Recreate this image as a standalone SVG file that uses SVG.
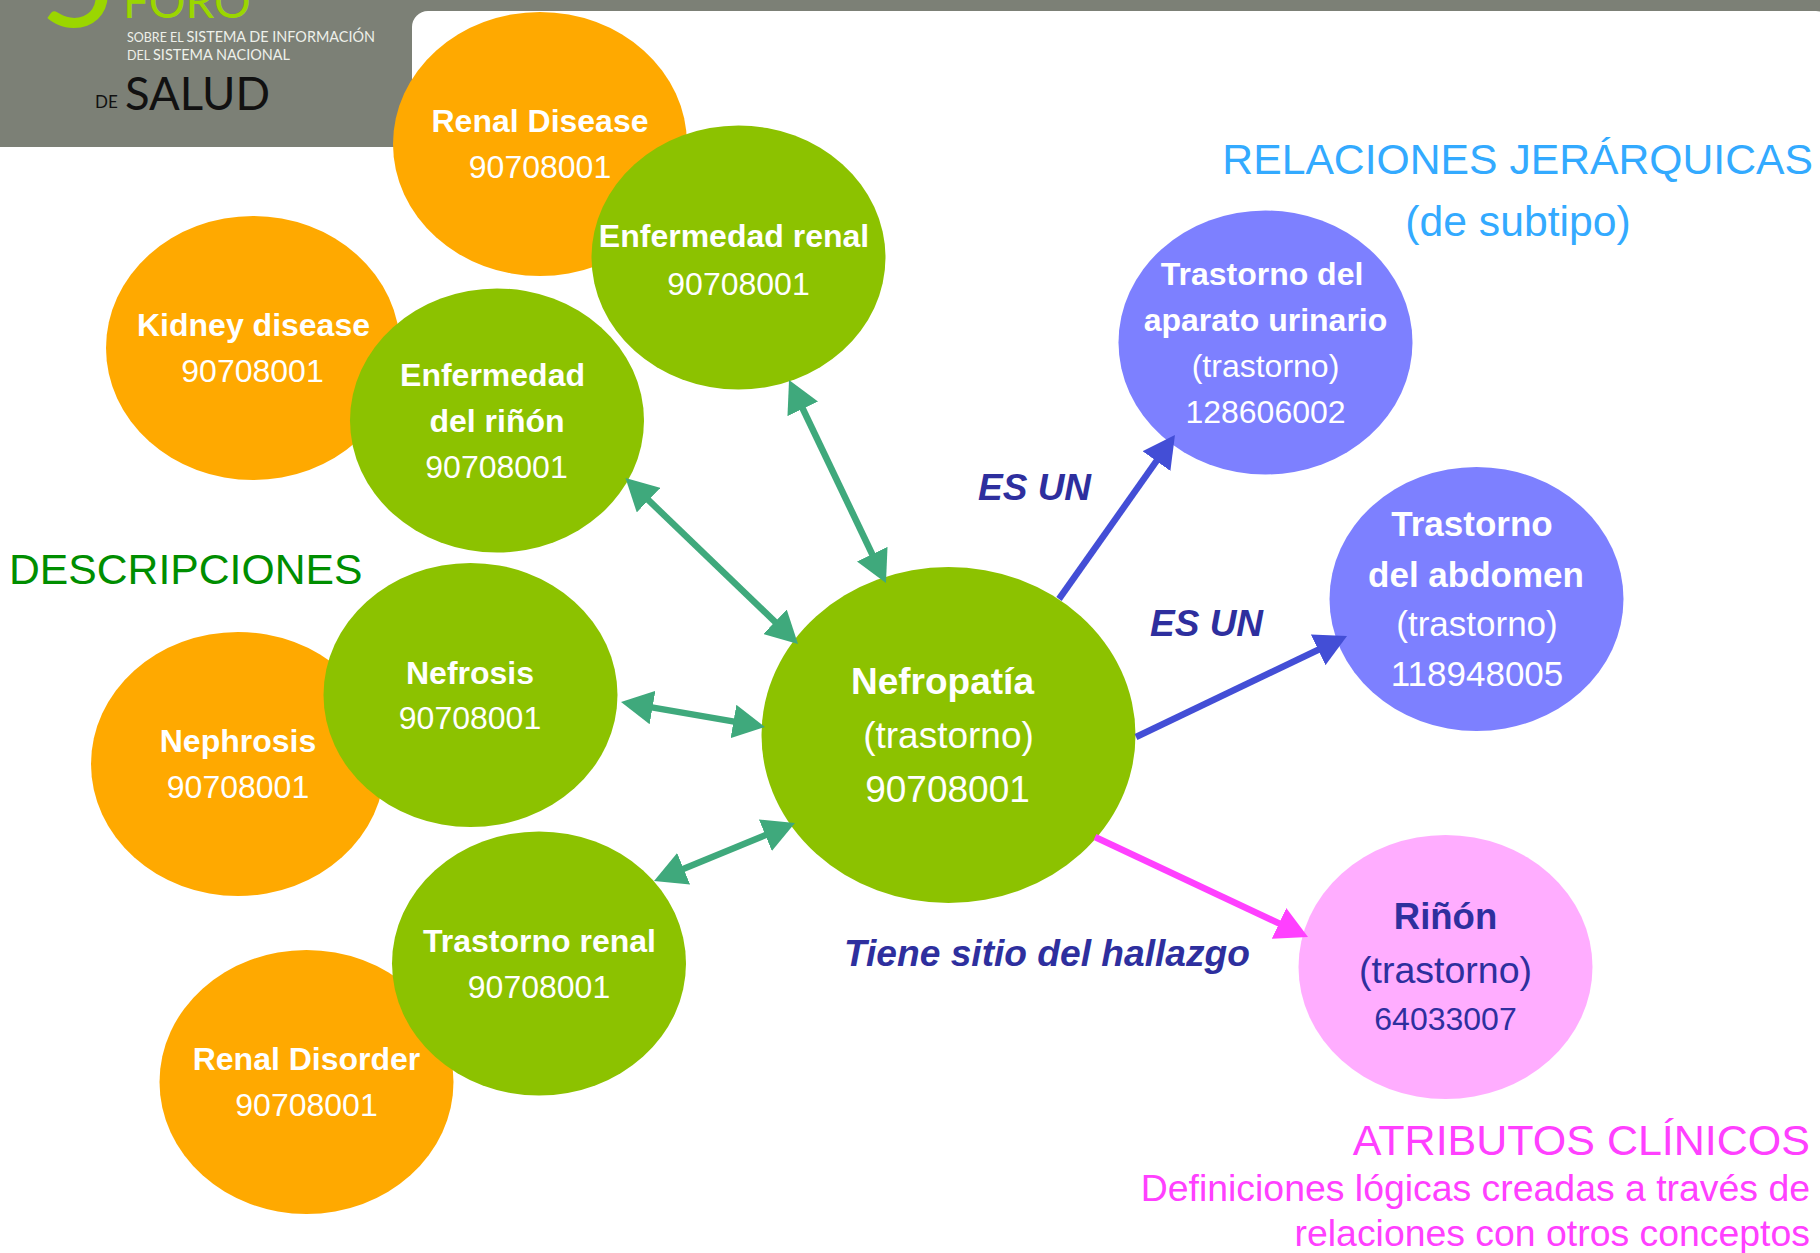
<svg xmlns="http://www.w3.org/2000/svg" width="1820" height="1253" viewBox="0 0 1820 1253">
<style>
text{font-family:"Liberation Sans",Arial,sans-serif;text-anchor:middle;fill:#fff;font-size:32px}
.b{font-weight:700}
.or{fill:#ffa900}.gr{fill:#8cc200}.pu{fill:#7d80ff}.pk{fill:#ffadff}
.big{font-size:37px}
.ab{font-size:35px}
.rel{font-weight:700;font-style:italic;fill:#2e2f9e;font-size:37px;text-anchor:start}
.h{font-size:42.7px}
.g{stroke:#3fa97c;stroke-width:6.5;fill:none;marker-start:url(#gs);marker-end:url(#ge)}
.u{stroke:#434ed6;stroke-width:6.5;fill:none;marker-end:url(#ue)}
.m{stroke:#ff40ff;stroke-width:6.5;fill:none;marker-end:url(#me)}
.logo{font-family:Lato,"Open Sans",sans-serif;text-anchor:start}
</style>
<defs>
<marker id="ge" markerUnits="userSpaceOnUse" markerWidth="32" markerHeight="34" refX="17" refY="17" orient="auto"><path d="M0 0L32 17L0 34Z" fill="#3fa97c"/></marker>
<marker id="gs" markerUnits="userSpaceOnUse" markerWidth="32" markerHeight="34" refX="15" refY="17" orient="auto"><path d="M32 0L0 17L32 34Z" fill="#3fa97c"/></marker>
<marker id="ue" markerUnits="userSpaceOnUse" markerWidth="32" markerHeight="34" refX="17" refY="17" orient="auto"><path d="M0 0L32 17L0 34Z" fill="#434ed6"/></marker>
<marker id="me" markerUnits="userSpaceOnUse" markerWidth="32" markerHeight="34" refX="17" refY="17" orient="auto"><path d="M0 0L32 17L0 34Z" fill="#ff40ff"/></marker>
</defs>
<rect width="1820" height="1253" fill="#fff"/>
<g id="header">
<rect width="1820" height="147" fill="#7c8076"/>
<rect x="412" y="11" width="1420" height="160" rx="16" fill="#fff"/>
<rect x="0" y="147" width="412" height="30" fill="#fff"/>
<text class="logo" x="40" y="27" style="font-size:132px;fill:#9bd600">5</text>
<text class="logo" x="123" y="18" style="font-size:46px;fill:#9bd600">FORO</text>
<text class="logo" x="127" y="42" textLength="248" lengthAdjust="spacingAndGlyphs" style="font-size:15px;fill:#eef0ea"><tspan style="font-size:13px">SOBRE EL </tspan>SISTEMA DE INFORMACIÓN</text>
<text class="logo" x="127" y="60" textLength="163" lengthAdjust="spacingAndGlyphs" style="font-size:15px;fill:#eef0ea"><tspan style="font-size:13px">DEL </tspan>SISTEMA NACIONAL</text>
<text class="logo" x="95" y="108" style="font-size:17px;fill:#111">DE</text>
<text class="logo" x="125" y="110" textLength="145" lengthAdjust="spacingAndGlyphs" style="font-size:46px;fill:#111">SALUD</text>
</g>
<g id="n-renal-disease"><ellipse class="or" cx="540" cy="144" rx="147" ry="132"/><text class="b" x="540" y="132">Renal Disease</text><text x="540" y="178">90708001</text></g>
<g id="n-enfermedad-renal"><ellipse class="gr" cx="738.5" cy="257.5" rx="147" ry="132"/><text class="b" x="734" y="247">Enfermedad renal</text><text x="738.5" y="295">90708001</text></g>
<g id="n-kidney-disease"><ellipse class="or" cx="253" cy="348" rx="147" ry="132"/><text class="b" x="253.5" y="336">Kidney disease</text><text x="252.5" y="382">90708001</text></g>
<g id="n-enfermedad-rinon"><ellipse class="gr" cx="497" cy="420.5" rx="147" ry="132"/><text class="b" x="492.5" y="386">Enfermedad</text><text class="b" x="497" y="432">del riñón</text><text x="496.5" y="478">90708001</text></g>
<g id="n-nephrosis"><ellipse class="or" cx="238" cy="764" rx="147" ry="132"/><text class="b" x="238" y="752">Nephrosis</text><text x="238" y="798">90708001</text></g>
<g id="n-nefrosis"><ellipse class="gr" cx="470.5" cy="695" rx="147" ry="132"/><text class="b" x="470" y="684">Nefrosis</text><text x="470" y="729">90708001</text></g>
<g id="n-renal-disorder"><ellipse class="or" cx="306.5" cy="1082" rx="147" ry="132"/><text class="b" x="306.5" y="1070">Renal Disorder</text><text x="306.5" y="1116">90708001</text></g>
<g id="n-trastorno-renal"><ellipse class="gr" cx="539" cy="963.5" rx="147" ry="132"/><text class="b" x="539.5" y="952">Trastorno renal</text><text x="539" y="998">90708001</text></g>
<g id="n-nefropatia"><ellipse class="gr" cx="948.5" cy="735" rx="187" ry="168"/><text class="b big" x="942.5" y="694">Nefropatía</text><text class="big" x="948.5" y="748">(trastorno)</text><text class="big" x="947.5" y="802">90708001</text></g>
<g id="n-aparato-urinario"><ellipse class="pu" cx="1265.5" cy="342.5" rx="147" ry="132"/><text class="b" x="1262" y="285">Trastorno del</text><text class="b" x="1265.5" y="331">aparato urinario</text><text x="1265.5" y="377">(trastorno)</text><text x="1265.5" y="423">128606002</text></g>
<g id="n-abdomen"><ellipse class="pu" cx="1476.5" cy="599" rx="147" ry="132"/><text class="b ab" x="1472" y="536">Trastorno</text><text class="b ab" x="1476" y="586.5">del abdomen</text><text class="ab" x="1477" y="636">(trastorno)</text><text class="ab" x="1477" y="686">118948005</text></g>
<g id="n-rinon"><ellipse class="pk" cx="1445.5" cy="967" rx="147" ry="132"/><text class="b" x="1445.5" y="929" style="fill:#2e2f9e;font-size:36.5px">Riñón</text><text x="1445.5" y="983" style="fill:#2e2f9e;font-size:37.5px">(trastorno)</text><text x="1445.5" y="1030" style="fill:#2e2f9e;font-size:32px">64033007</text></g>
<g id="connectors">
<line class="g" x1="795.5" y1="393.5" x2="879.5" y2="569.5"/>
<line class="g" x1="636.3" y1="488.4" x2="787.2" y2="633.6"/>
<line class="g" x1="635.8" y1="704.6" x2="750.2" y2="724.4"/>
<line class="g" x1="667.9" y1="875.3" x2="781.1" y2="828.7"/>
<line class="u" x1="1059" y1="599" x2="1166.3" y2="447.2"/>
<line class="u" x1="1136" y1="737" x2="1333.5" y2="642.5"/>
<line class="m" x1="1095" y1="837" x2="1294.4" y2="930.6"/>
</g>
<g id="labels">
<text class="rel" x="978" y="500">ES UN</text>
<text class="rel" x="1150" y="636">ES UN</text>
<text class="rel" x="844" y="966" textLength="406" lengthAdjust="spacingAndGlyphs">Tiene sitio del hallazgo</text>
<text class="h" x="9" y="584" style="text-anchor:start;fill:#008e00">DESCRIPCIONES</text>
<text class="h" x="1813" y="174" style="text-anchor:end;fill:#33aaff">RELACIONES JERÁRQUICAS</text>
<text class="h" x="1518" y="236" style="fill:#33aaff">(de subtipo)</text>
<text x="1810" y="1155" style="text-anchor:end;fill:#ff40ff;font-size:43px">ATRIBUTOS CLÍNICOS</text>
<text x="1810" y="1201" style="text-anchor:end;fill:#ff40ff;font-size:37.4px">Definiciones lógicas creadas a través de</text>
<text x="1810" y="1246" style="text-anchor:end;fill:#ff40ff;font-size:37.4px">relaciones con otros conceptos</text>
</g>
</svg>
